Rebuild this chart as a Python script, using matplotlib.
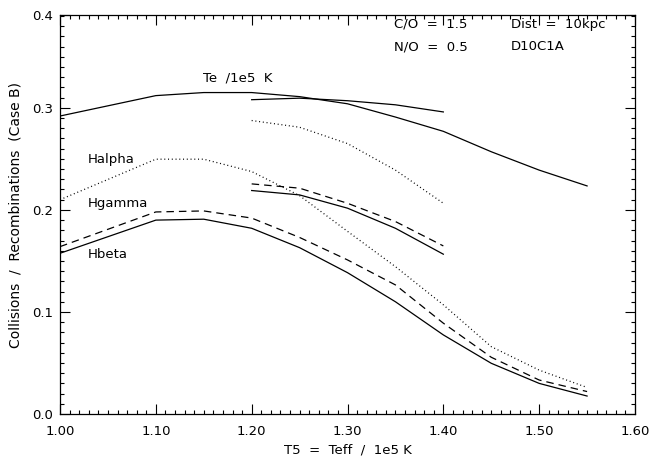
import numpy as np
import matplotlib
matplotlib.use("Agg")
import matplotlib.pyplot as plt
from matplotlib.ticker import MultipleLocator, FormatStrFormatter

# model grid (T5 = Teff / 1e5 K)
t5_full = [1.00, 1.10, 1.15, 1.20, 1.25, 1.30, 1.35, 1.40, 1.45, 1.50, 1.55]
t5_short = [1.20, 1.25, 1.30, 1.35, 1.40]

# first model sequence
te_full = [0.292, 0.312, 0.315, 0.315, 0.311, 0.304, 0.291, 0.277, 0.257, 0.239, 0.2235]
halpha_full = [0.210, 0.2497, 0.2497, 0.2376, 0.214, 0.179, 0.1444, 0.107, 0.066, 0.043, 0.026]
hgamma_full = [0.164, 0.198, 0.199, 0.192, 0.173, 0.151, 0.1265, 0.089, 0.0556, 0.0333, 0.022]
hbeta_full = [0.1575, 0.190, 0.1909, 0.182, 0.163, 0.1385, 0.110, 0.0775, 0.0497, 0.030, 0.0176]

# second (shorter) model sequence
te_short = [0.308, 0.3095, 0.307, 0.303, 0.296]
halpha_short = [0.2876, 0.281, 0.265, 0.239, 0.2065]
hgamma_short = [0.2255, 0.2213, 0.2065, 0.1886, 0.1647]
hbeta_short = [0.219, 0.2147, 0.2017, 0.182, 0.1566]

# y axis as drawn in the original: top edge sits a little below 0.40
ytop = 0.391
yticks = [0.0, 0.1, 0.2, 0.3, ytop]
ylabels = ['0.0', '0.1', '0.2', '0.3', '0.4']

plt.rcParams['font.family'] = 'DejaVu Sans'
plt.rcParams['font.size'] = 9.5

fig = plt.figure(figsize=(6.5, 4.58), dpi=100)
ax = fig.add_axes([60/650, 44/458, 575/650, 399/458])

lw = 0.9
dash = (0, (6, 4))
dot = (0, (0.8, 2.2))

ax.plot(t5_full, te_full, color='black', lw=lw)
ax.plot(t5_full, halpha_full, color='black', lw=lw, linestyle=dot)
ax.plot(t5_full, hgamma_full, color='black', lw=lw, linestyle=dash)
ax.plot(t5_full, hbeta_full, color='black', lw=lw)

ax.plot(t5_short, te_short, color='black', lw=lw)
ax.plot(t5_short, halpha_short, color='black', lw=lw, linestyle=dot)
ax.plot(t5_short, hgamma_short, color='black', lw=lw, linestyle=dash)
ax.plot(t5_short, hbeta_short, color='black', lw=lw)

# curve labels
ax.text(1.149, 0.329, 'Te  /1e5  K', va='center', ha='left')
ax.text(1.029, 0.249, 'Halpha', va='center', ha='left')
ax.text(1.029, 0.206, 'Hgamma', va='center', ha='left')
ax.text(1.029, 0.156, 'Hbeta', va='center', ha='left')

# model info
ax.text(1.3485, 0.382, 'C/O  =  1.5', va='center', ha='left')
ax.text(1.3485, 0.360, 'N/O  =  0.5', va='center', ha='left')
ax.text(1.4706, 0.382, 'Dist  =  10kpc', va='center', ha='left')
ax.text(1.4706, 0.360, 'D10C1A', va='center', ha='left')

ax.set_xlim(1.0, 1.6)
ax.set_ylim(0.0, ytop)
ax.xaxis.set_major_locator(MultipleLocator(0.1))
ax.xaxis.set_minor_locator(MultipleLocator(0.01))
ax.set_yticks(yticks)
ax.set_yticklabels(ylabels)
ax.yaxis.set_minor_locator(MultipleLocator(0.01))
ax.xaxis.set_major_formatter(FormatStrFormatter('%.2f'))
ax.tick_params(which='both', direction='in', top=True, right=True, width=0.8)
ax.tick_params(which='major', length=7)
ax.tick_params(which='minor', length=3)
ax.tick_params(axis='x', which='major', pad=8)
ax.tick_params(axis='y', which='major', pad=5)
for s in ax.spines.values():
    s.set_linewidth(0.9)

ax.set_xlabel('T5  =  Teff  /  1e5 K', labelpad=4)
ax.set_ylabel('Collisions  /  Recombinations  (Case B)', labelpad=7, fontsize=10)

fig.savefig('out.png', dpi=100)
